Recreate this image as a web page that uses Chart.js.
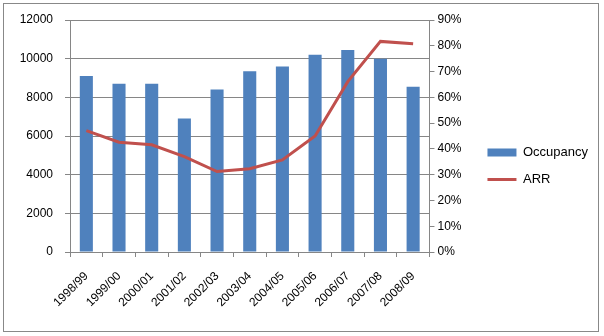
<!DOCTYPE html>
<html>
<head>
<meta charset="utf-8">
<script src="https://cdn.jsdelivr.net/npm/chart.js@4.4.0/dist/chart.umd.min.js"></script>
<style>
  html, body { margin: 0; padding: 0; background: #fff; }
  #wrap { width: 604px; height: 336px; }
</style>
</head>
<body>
<div id="wrap"><canvas id="occChart" width="604" height="336"></canvas></div>
<script>
const years = ['1998/99', '1999/00', '2000/01', '2001/02', '2002/03', '2003/04',
               '2004/05', '2005/06', '2006/07', '2007/08', '2008/09'];
const occupancy = [9100, 8700, 8700, 6900, 8400, 9350, 9600, 10200, 10450, 10000, 8550];
const arr = [47.1, 42.6, 41.6, 37.0, 31.2, 32.3, 35.7, 45.0, 66.1, 81.7, 80.8]; // percent

const gridGrey = '#868686';

// thin grey frame round the whole chart
const framePlugin = {
    id: 'frame',
    afterDraw(chart) {
        const c = chart.ctx;
        c.save();
        c.strokeStyle = '#888888';
        c.lineWidth = 1;
        c.strokeRect(3.5, 3.5, 595, 328);
        c.restore();
    }
};

Chart.defaults.font.family = '"Liberation Sans", Arial, sans-serif';
Chart.defaults.font.size = 12;
Chart.defaults.color = '#000';

const ctx = document.getElementById('occChart').getContext('2d');
const myChart = new Chart(ctx, {
    type: 'bar',
    data: {
        labels: years,
        datasets: [
            {
                label: 'Occupancy',
                data: occupancy,
                backgroundColor: '#4F81BD',
                barPercentage: 0.4,
                categoryPercentage: 1.0,
                yAxisID: 'y',
                order: 1
            },
            {
                type: 'line',
                label: 'ARR',
                data: arr,
                borderColor: '#C0504D',
                backgroundColor: '#C0504D',
                borderWidth: 3,
                pointRadius: 0,
                tension: 0,
                yAxisID: 'y1',
                order: 0
            }
        ]
    },
    options: {
        responsive: false,
        animation: false,
        layout: { padding: { top: 20, left: 0, right: 6, bottom: 24 } },
        plugins: {
            tooltip: { enabled: false },
            legend: {
                position: 'right',
                maxWidth: 200,
                labels: {
                    font: { size: 13 },
                    usePointStyle: true,
                    pointStyleWidth: 29,
                    boxWidth: 29,
                    boxHeight: 8,
                    padding: 14,
                    sort: (a, b) => a.datasetIndex - b.datasetIndex,
                    generateLabels(chart) {
                        const items = Chart.defaults.plugins.legend.labels.generateLabels(chart);
                        items.forEach(it => {
                            if (it.datasetIndex === 0) {
                                it.pointStyle = 'rect';
                                it.lineWidth = 0;
                                it.strokeStyle = 'rgba(0,0,0,0)';
                            } else {
                                it.pointStyle = 'line';
                                it.lineWidth = 3;
                                it.strokeStyle = '#C0504D';
                            }
                        });
                        return items;
                    }
                }
            }
        },
        scales: {
            x: {
                offset: true,
                grid: {
                    offset: true,
                    drawOnChartArea: false,
                    drawTicks: true,
                    tickLength: 5,
                    color: gridGrey
                },
                border: { color: gridGrey },
                ticks: {
                    maxRotation: 45,
                    minRotation: 45,
                    autoSkip: false,
                    padding: 12
                },
                afterFit(scale) { scale.height = 60; }
            },
            y: {
                position: 'left',
                min: 0,
                max: 12000,
                ticks: { stepSize: 2000, padding: 12, callback: v => String(v) },
                grid: { color: gridGrey, tickLength: 5 },
                border: { color: gridGrey },
                afterFit(scale) { scale.width = 70; }
            },
            y1: {
                position: 'right',
                min: 0,
                max: 90,
                ticks: { stepSize: 10, padding: 3, callback: v => v + '%' },
                grid: { drawOnChartArea: false, color: gridGrey, tickLength: 5 },
                border: { color: gridGrey },
                afterFit(scale) { scale.width = 44; }
            }
        }
    },
    plugins: [framePlugin]
});
</script>
</body>
</html>
